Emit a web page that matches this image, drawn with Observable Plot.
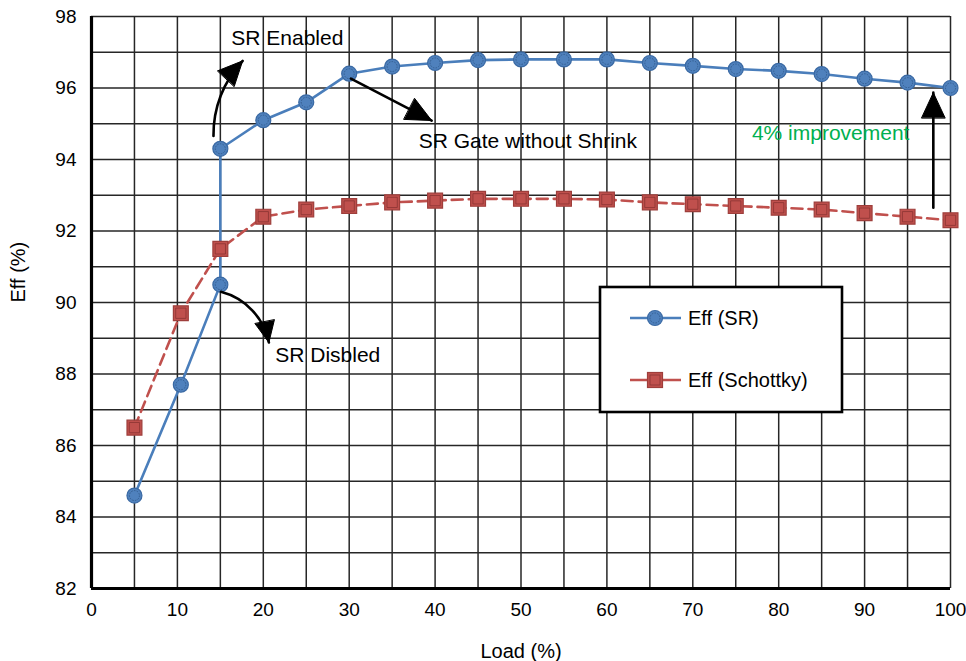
<!DOCTYPE html>
<html>
<head>
<meta charset="utf-8">
<script src="https://cdn.jsdelivr.net/npm/d3@7"></script>
<script src="https://cdn.jsdelivr.net/npm/@observablehq/plot@0.6"></script>
<style>
  body { margin: 0; background: #fff; }
  svg { display: block; }
</style>
</head>
<body>
<div id="chart"></div>
<script>
// ---- Data ----
const srLoad = [5, 10.4, 15, 15, 20, 25, 30, 35, 40, 45, 50, 55, 60, 65, 70, 75, 80, 85, 90, 95, 100];
const srEff  = [84.6, 87.7, 90.5, 94.3, 95.1, 95.6, 96.4, 96.6, 96.7, 96.78, 96.8, 96.8, 96.8, 96.7, 96.62, 96.53, 96.48, 96.39, 96.26, 96.15, 96.0];
const schLoad = [5, 10.4, 15, 20, 25, 30, 35, 40, 45, 50, 55, 60, 65, 70, 75, 80, 85, 90, 95, 100];
const schEff  = [86.5, 89.7, 91.5, 92.4, 92.6, 92.7, 92.8, 92.85, 92.9, 92.9, 92.9, 92.88, 92.8, 92.75, 92.7, 92.65, 92.6, 92.5, 92.4, 92.3];

const xTicks = [0, 10, 20, 30, 40, 50, 60, 70, 80, 90, 100];
const yTicks = [82, 84, 86, 88, 90, 92, 94, 96, 98];
const xGrid = d3.range(0, 101, 5);
const yGrid = d3.range(82, 99, 1);

const xLabel = "Load (%)";
const yLabel = "Eff (%)";
const seriesNames = ["Eff (SR)", "Eff (Schottky)"];

const noteText = ["SR Enabled", "SR Gate without Shrink", "SR Disbled"];
const noteX = [22.8, 50.8, 27.5];
const noteY = [97.38, 94.5, 88.52];
const gainText = ["4% improvement"];
const gainX = [86.05];
const gainY = [94.72];

const arrowX1 = [14.2, 30.2, 15.07, 98.0];
const arrowY1 = [94.66, 96.26, 90.3, 92.65];
const arrowX2 = [17.6, 39.6, 20.65, 98.0];
const arrowY2 = [96.76, 95.09, 88.88, 95.87];
const arrowBend = [22, 0, 32, 0];

// ---- Tables ----
const sr = srLoad.map((x, i) => ({x, y: srEff[i]}));
const sch = schLoad.map((x, i) => ({x, y: schEff[i]}));
const notes = noteText.map((t, i) => ({t, x: noteX[i], y: noteY[i]}));
const gains = gainText.map((t, i) => ({t, x: gainX[i], y: gainY[i]}));
const arrows = arrowX1.map((x1, i) => ({x1, y1: arrowY1[i], x2: arrowX2[i], y2: arrowY2[i], bend: arrowBend[i]}));

const FONT = '"Liberation Sans", Arial, Helvetica, sans-serif';
const BLUE = "#4A7EBB", BLUE_FILL = "#4F81BD", BLUE_EDGE = "#3A69A3";
const RED = "#C0504D", RED_EDGE = "#9E3E3B";
const GRID = "#262626";
const SVGNS = "http://www.w3.org/2000/svg";

// Filled arrowheads: split Plot's arrow path into shaft + closed head
function fillHeads(index, scales, values, dims, context, next) {
  const g = next(index, scales, values, dims, context);
  g.querySelectorAll("path").forEach(p => {
    const d = p.getAttribute("d");
    if (!d) return;
    const k = d.lastIndexOf("M");
    if (k <= 0) return;
    p.setAttribute("d", d.slice(0, k));
    const h = document.createElementNS(SVGNS, "path");
    h.setAttribute("d", d.slice(k) + "Z");
    h.setAttribute("fill", "#000");
    h.setAttribute("stroke", "#000");
    h.setAttribute("stroke-width", "1");
    h.setAttribute("stroke-linejoin", "miter");
    p.parentNode.insertBefore(h, p.nextSibling);
  });
  return g;
}

const arrowMarks = arrows.map(a => Plot.arrow([a], {
  x1: "x1", y1: "y1", x2: "x2", y2: "y2", bend: a.bend,
  stroke: "#000", strokeWidth: 2.6, headLength: 16, headAngle: 50, render: fillHeads
}));

const plot = Plot.plot({
  width: 966,
  height: 661,
  marginLeft: 91,
  marginRight: 16,
  marginTop: 16,
  marginBottom: 73,
  style: {fontFamily: FONT, fontSize: "19px", color: "#000", background: "#fff"},
  x: {domain: [0, 100]},
  y: {domain: [82, 98]},
  marks: [
    Plot.ruleX(xGrid, {stroke: GRID, strokeWidth: 1.5}),
    Plot.ruleY(yGrid, {stroke: GRID, strokeWidth: 1.5}),
    Plot.ruleX([0], {stroke: "#000", strokeWidth: 3.2}),
    Plot.ruleY([82], {stroke: "#000", strokeWidth: 3.2}),
    Plot.axisX({ticks: xTicks, tickSize: 0, tickPadding: 14, fontSize: 19, label: null}),
    Plot.axisY({ticks: yTicks, tickSize: 0, tickPadding: 15, fontSize: 19, label: null}),
    Plot.text([xLabel], {frameAnchor: "bottom", dy: 69, fontSize: 20, fill: "#000"}),
    Plot.text([yLabel], {frameAnchor: "left", dx: -73, rotate: -90, fontSize: 20, fill: "#000"}),
    // annotation texts (backgrounds added after render)
    Plot.text(notes, {x: "x", y: "y", text: "t", fontSize: 21, fill: "#000", ariaLabel: "note"}),
    Plot.text(gains, {x: "x", y: "y", text: "t", fontSize: 21, fill: "#00B050", ariaLabel: "note"}),
    // series
    Plot.line(sch, {x: "x", y: "y", stroke: RED, strokeWidth: 2.6, strokeDasharray: "11,6"}),
    Plot.line(sr, {x: "x", y: "y", stroke: BLUE, strokeWidth: 2.6}),
    Plot.dot(sch, {x: "x", y: "y", symbol: "square", r: 8.4, fill: RED, stroke: RED_EDGE, strokeWidth: 1.2}),
    Plot.dot(sch, {x: "x", y: "y", symbol: "square", r: 5.8, fill: "none", stroke: "#8a3432", strokeWidth: 0.8}),
    Plot.dot(sr, {x: "x", y: "y", r: 7.5, fill: BLUE_FILL, stroke: BLUE_EDGE, strokeWidth: 1.2}),
    Plot.dot(sr, {x: "x", y: "y", r: 5, fill: "none", stroke: "#2f5788", strokeWidth: 0.8, strokeDasharray: "1.6,1.2"}),
    // arrows
    ...arrowMarks
  ]
});

document.getElementById("chart").appendChild(plot);

// White boxes behind annotation texts
plot.querySelectorAll('g[aria-label="note"] text').forEach(t => {
  const b = t.getBBox();
  const r = document.createElementNS(SVGNS, "rect");
  const px = 9, py = 3;
  r.setAttribute("x", b.x - px);
  r.setAttribute("y", b.y - py);
  r.setAttribute("width", b.width + 2 * px);
  r.setAttribute("height", b.height + 2 * py);
  r.setAttribute("fill", "#fff");
  const tr = t.getAttribute("transform");
  if (tr) r.setAttribute("transform", tr);
  t.parentNode.insertBefore(r, t);
});

// Legend box inside the plot area
const svg = d3.select(plot);
const lg = svg.append("g").attr("font-family", FONT).attr("font-size", 20).attr("text-anchor", "start");
lg.append("rect").attr("x", 600).attr("y", 287).attr("width", 242).attr("height", 125)
  .attr("fill", "#fff").attr("stroke", "#000").attr("stroke-width", 2.6);
const legendRows = [
  {name: seriesNames[0], y: 318, color: BLUE, kind: "circle"},
  {name: seriesNames[1], y: 380, color: RED, kind: "square"}
];
legendRows.forEach(row => {
  lg.append("line").attr("x1", 630).attr("x2", 681).attr("y1", row.y).attr("y2", row.y)
    .attr("stroke", row.color).attr("stroke-width", 2.6);
  if (row.kind === "circle") {
    lg.append("circle").attr("cx", 655).attr("cy", row.y).attr("r", 7.5)
      .attr("fill", BLUE_FILL).attr("stroke", BLUE_EDGE).attr("stroke-width", 1.2);
    lg.append("circle").attr("cx", 655).attr("cy", row.y).attr("r", 5)
      .attr("fill", "none").attr("stroke", "#2f5788").attr("stroke-width", 0.8).attr("stroke-dasharray", "1.6,1.2");
  } else {
    lg.append("rect").attr("x", 655 - 7.5).attr("y", row.y - 7.5).attr("width", 15).attr("height", 15)
      .attr("fill", RED).attr("stroke", RED_EDGE).attr("stroke-width", 1.2);
    lg.append("rect").attr("x", 655 - 5).attr("y", row.y - 5).attr("width", 10).attr("height", 10)
      .attr("fill", "none").attr("stroke", "#8a3432").attr("stroke-width", 0.8);
  }
  lg.append("text").attr("x", 688).attr("y", row.y).attr("dy", "0.35em").attr("fill", "#000").text(row.name);
});
</script>
</body>
</html>
